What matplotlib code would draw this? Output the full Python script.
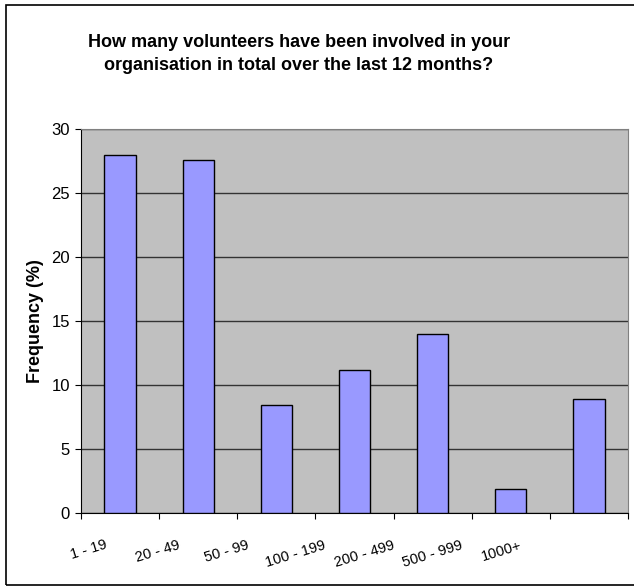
"""Volunteers involved in the organisation over the last 12 months."""
import numpy as np
import matplotlib
matplotlib.use("Agg")
import matplotlib.pyplot as plt
from matplotlib.patches import Rectangle

plt.rcParams["font.family"] = ["Liberation Sans", "DejaVu Sans"]

# -------------------------------------------------------
# Data.
# -------------------------------------------------------
categories = ["1 - 19", "20 - 49", "50 - 99", "100 - 199",
              "200 - 499", "500 - 999", "1000+"]
frequency = [28.0, 27.6, 8.4, 11.2, 14.0, 1.9, 8.9]

# -------------------------------------------------------
# Plot.
# -------------------------------------------------------
fig = plt.figure(figsize=(6.34, 5.87), dpi=100)
# outer chart frame (right edge runs off the picture):
fig.patches.append(Rectangle(
    (6/634, 2/587), 640/634, 580/587,
    transform=fig.transFigure, fill=False,
    edgecolor="black", linewidth=1.2,
    ))

ax = fig.add_axes([81/634, 1-513/587, 547/634, 384/587])
ax.set_facecolor("#c0c0c0")

x = np.arange(len(categories))
ax.bar(x, frequency, width=0.40, color="#9999ff",
       edgecolor="black", linewidth=1.0, zorder=3)

ax.set_xlim(-0.5, len(categories)-0.5)
ax.set_ylim(0, 30)
ax.set_yticks(range(0, 31, 5))
ax.yaxis.grid(True, color="#333333", linewidth=1.0, zorder=1)
ax.tick_params(axis="y", direction="out", length=4, labelsize=12, pad=4)

# category boundary ticks, labels drawn separately (excel style offset):
ax.set_xticks(np.arange(-0.5, len(categories), 1.0))
ax.set_xticklabels([])
ax.tick_params(axis="x", which="major", direction="out", length=4)
ax.set_xticks(-0.40 + 0.881*x, minor=True)
ax.set_xticklabels(categories, minor=True, rotation=17,
                   ha="center", va="top", fontsize=10.5)
ax.tick_params(axis="x", which="minor", length=0, pad=18)

for side in ["top", "right"]:
    ax.spines[side].set_color("#808080")
ax.spines["left"].set_color("black")
ax.spines["bottom"].set_color("black")

ax.set_ylabel("Frequency (%)", fontsize=13, fontweight="bold", labelpad=5)

fig.text(299/634, 1-54/587,
         "How many volunteers have been involved in your\n"
         "organisation in total over the last 12 months?",
         ha="center", va="center", fontsize=13, fontweight="bold",
         linespacing=1.45)

fig.savefig("out.png", dpi=100)
